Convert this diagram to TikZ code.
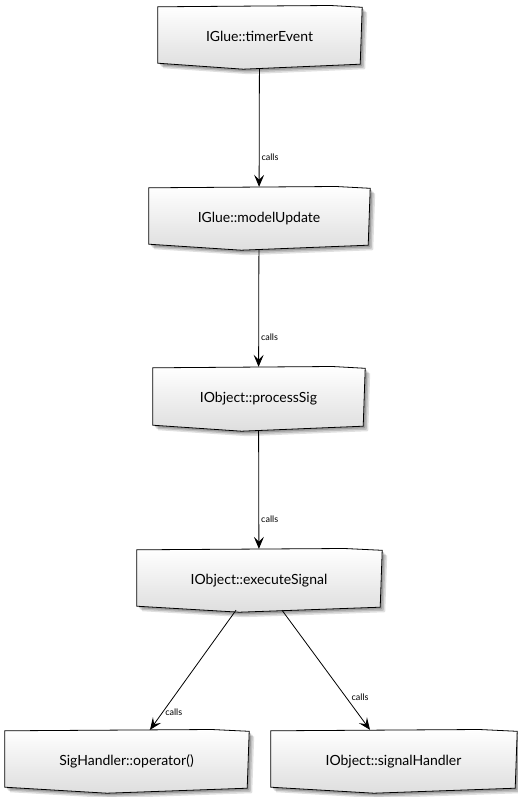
\documentclass[tikz,border=0pt]{standalone}
\usepackage{fontspec}
\setmainfont{Lato}
\usetikzlibrary{calc,arrows.meta,backgrounds}
\tikzset{
  box/.style={minimum height=63pt, inner sep=0pt, font=\fontsize{14}{16}\selectfont},
  conn/.style={draw=black, line width=0.8pt, -{Stealth[length=12pt,width=10pt,inset=5pt]}},
  lbl/.style={font=\fontsize{9}{10}\selectfont, inner sep=1pt},
}
\newcommand\skpath[3]{($(#1.north west)+(#2,#3+1)$) -- ($(#1.north west)!0.85!(#1.north east)+(#2,#3-0.3)$) -- ($(#1.north east)+(#2+1,#3+1.5)$) -- ($(#1.south east)+(#2-1,#3-5)$) -- ($(#1.south west)!0.42!(#1.south east)+(#2,#3)$) -- ($(#1.south west)+(#2,#3-6)$) -- cycle}
\newcommand\skbox[1]{%
  \begin{scope}[on background layer]
    \fill[black,opacity=0.12] \skpath{#1}{5}{5};
    \fill[black,opacity=0.15] \skpath{#1}{3.5}{3.5};
    \fill[black,opacity=0.18] \skpath{#1}{2}{2};
    \shade[top color=white,bottom color=black!13,draw=black,line width=0.8pt] \skpath{#1}{0}{0};
  \end{scope}}
\begin{document}
\begin{tikzpicture}[x=1pt,y=-1pt]
  \useasboundingbox (0,0) rectangle (517,797);
  \node[box,minimum width=203pt] (a) at (259.5,37.5) {\raisebox{3pt}{IGlue::timerEvent}};
  \node[box,minimum width=220pt] (b) at (259,218.5) {\raisebox{3pt}{IGlue::modelUpdate}};
  \node[box,minimum width=211pt,minimum height=64pt] (c) at (258.5,399) {\raisebox{3pt}{IObject::processSig}};
  \node[box,minimum width=244pt] (d) at (259,580.5) {\raisebox{3pt}{IObject::executeSignal}};
  \node[box,minimum width=243pt] (e) at (126.5,761.5) {\raisebox{3pt}{SigHandler::operator()}};
  \node[box,minimum width=245pt] (f) at (393.5,761.5) {\raisebox{3pt}{IObject::signalHandler}};
  \skbox{a}\skbox{b}\skbox{c}\skbox{d}\skbox{e}\skbox{f}
  \draw[conn] (a) -- node[lbl,pos=0.75,right=1pt] {calls} (b);
  \draw[conn] (b) -- node[lbl,pos=0.75,right=1pt] {calls} (c);
  \draw[conn] (c) -- node[lbl,pos=0.75,right=1pt] {calls} (d);
  \draw[conn] ($(d.south)+(-23,-2)$) -- node[lbl,pos=0.85,right=1pt] {calls} ($(e.north)+(23.5,0)$);
  \draw[conn] ($(d.south)+(23,-2)$) -- node[lbl,pos=0.73,right=4pt] {calls} ($(f.north)+(-23.5,0)$);
\end{tikzpicture}
\end{document}
